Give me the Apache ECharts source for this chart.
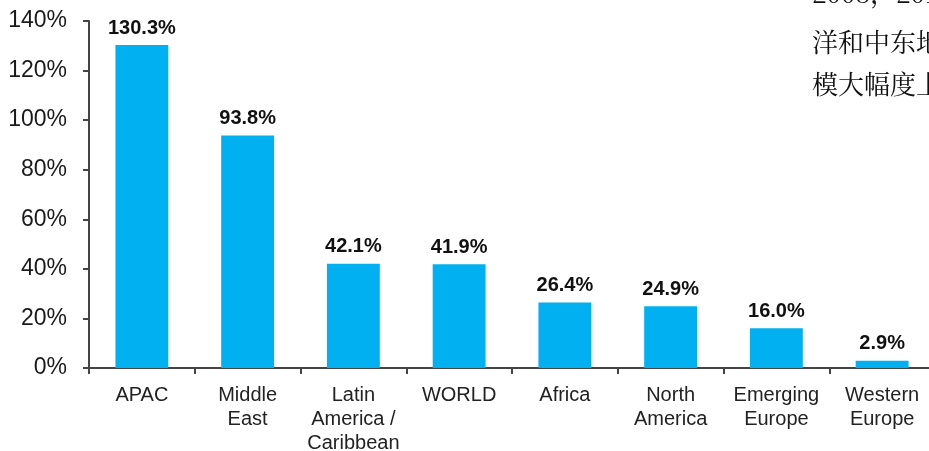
<!DOCTYPE html>
<html>
<head>
<meta charset="utf-8">
<script src="https://cdn.jsdelivr.net/npm/echarts@6/dist/echarts.min.js"></script>
<style>
html,body{margin:0;padding:0;background:#fff;overflow:hidden;}
#c{width:929px;height:451px;}
</style>
</head>
<body>
<div id="c"></div>
<script>
var categories = ['APAC', 'Middle\nEast', 'Latin\nAmerica /\nCaribbean', 'WORLD', 'Africa', 'North\nAmerica', 'Emerging\nEurope', 'Western\nEurope'];
var growth = [130.3, 93.8, 42.1, 41.9, 26.4, 24.9, 16.0, 2.9];
var sideText = ['2008，2018年，亚太', '洋和中东地区市场规', '模大幅度上升'];
var sideTops = [-20, 29, 71];

var chart = echarts.init(document.getElementById('c'));
var font = '"Liberation Sans", Arial, sans-serif';
chart.setOption({
  animation: false,
  backgroundColor: '#fff',
  grid: { left: 89, top: 21, bottom: 83, width: 846, containLabel: false, outerBoundsMode: 'none' },
  xAxis: {
    type: 'category',
    data: categories,
    axisLine: { lineStyle: { color: '#444', width: 2 } },
    axisTick: { show: true, length: 6, lineStyle: { color: '#444', width: 2 } },
    axisLabel: { color: '#222', fontSize: 20, fontFamily: font, lineHeight: 24, margin: 15, interval: 0 }
  },
  yAxis: {
    type: 'value',
    min: 0, max: 140, interval: 20,
    axisLine: { show: true, lineStyle: { color: '#444', width: 2 } },
    axisTick: { show: true, length: 6, lineStyle: { color: '#444', width: 2 } },
    splitLine: { show: false },
    axisLabel: { formatter: '{value}%', color: '#1a1a1a', fontSize: 23, fontFamily: font, margin: 22 }
  },
  series: [{
    type: 'bar',
    data: growth,
    barWidth: '50%',
    itemStyle: { color: '#00B0F0' },
    label: {
      show: true, position: 'top', distance: 7,
      formatter: function (p) { return p.value.toFixed(1) + '%'; },
      color: '#111', fontSize: 20, fontWeight: 'bold', fontFamily: font
    }
  }],
  graphic: sideText.map(function (t, i) {
    return {
      type: 'text', left: 812, top: sideTops[i], z: 10,
      style: { text: t, fill: '#111', font: '26px "Noto Serif CJK SC", "Noto Sans CJK SC", serif' }
    };
  })
});
</script>
</body>
</html>
